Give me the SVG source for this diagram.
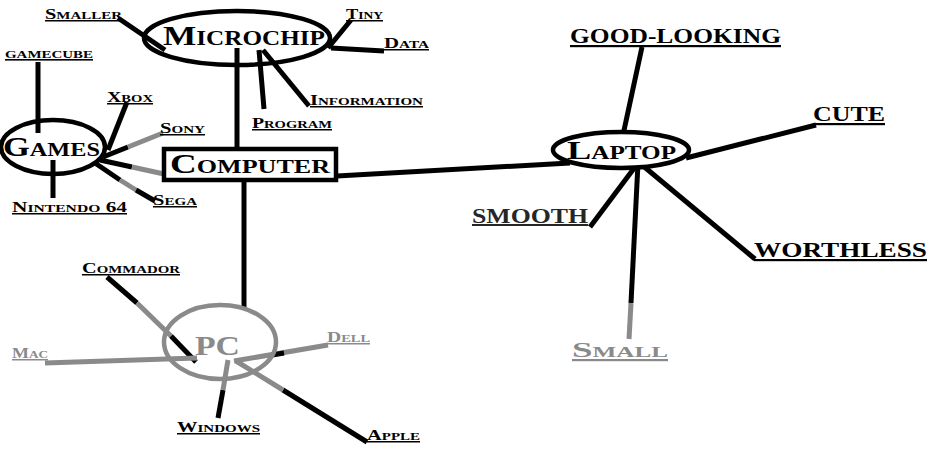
<svg xmlns="http://www.w3.org/2000/svg" width="941" height="461" viewBox="0 0 941 461">
<style>
text{font-family:"Liberation Serif","DejaVu Serif",serif;font-weight:bold;font-variant:small-caps;text-decoration:underline;fill:#000}
.s{font-size:15px}
.b{font-size:27px;text-decoration:none}
.m{font-size:22px}
.g{fill:#8a8a8a}
.c line,.c path{stroke:#000;stroke-width:5;fill:none;stroke-linecap:butt}
.c .gr{stroke:#8a8a8a}
.sh{fill:#fff;stroke:#000;stroke-width:4.5}
.shg{fill:none;stroke:#8a8a8a;stroke-width:4.5}
</style>
<rect width="941" height="461" fill="#fff"/>
<g id="connectors" class="c">
<line x1="118" y1="18" x2="165" y2="50"/>
<line x1="351" y1="20" x2="328" y2="48"/>
<line x1="331" y1="48" x2="384" y2="51"/>
<line x1="263" y1="50" x2="309" y2="106"/>
<line x1="259" y1="50" x2="264" y2="109"/>
<line x1="237" y1="48" x2="237" y2="149"/>
<line x1="337" y1="176" x2="570" y2="163"/>
<line x1="244" y1="181" x2="244" y2="307"/>
<line x1="38" y1="62" x2="38" y2="133"/>
<line x1="127" y1="102" x2="108" y2="150"/>
<line x1="103" y1="157" x2="128" y2="147"/>
<line class="gr" x1="128" y1="147" x2="163" y2="133"/>
<line x1="100" y1="160" x2="132" y2="167"/>
<line class="gr" x1="132" y1="167" x2="164" y2="174"/>
<line x1="95" y1="163" x2="120" y2="180"/>
<line class="gr" x1="120" y1="180" x2="136" y2="190"/>
<line x1="136" y1="190" x2="155" y2="201"/>
<line x1="53" y1="160" x2="53" y2="198"/>
<line x1="107" y1="277" x2="137" y2="303"/>
<line class="gr" x1="137" y1="303" x2="171" y2="336"/>
<line x1="171" y1="336" x2="196" y2="362"/>
<line class="gr" x1="45" y1="363" x2="197" y2="358"/>
<line class="gr" x1="328" y1="345" x2="234" y2="361"/>
<line x1="272" y1="355" x2="284" y2="353"/>
<line x1="218" y1="418" x2="223" y2="390"/>
<line class="gr" x1="223" y1="390" x2="228" y2="360"/>
<line x1="367" y1="442" x2="283" y2="390"/>
<line class="gr" x1="283" y1="390" x2="236" y2="361"/>
<line x1="642" y1="47" x2="623" y2="135"/>
<line x1="816" y1="125" x2="686" y2="158"/>
<line x1="590" y1="227" x2="638" y2="163"/>
<line x1="638" y1="163" x2="631" y2="303"/>
<line class="gr" x1="631" y1="303" x2="629" y2="339"/>
<line x1="642" y1="165" x2="755" y2="259"/>
</g>
<g id="microchip">
<ellipse cx="237" cy="38" rx="93" ry="27" fill="none" stroke="#000" stroke-width="4.5"/>
<text class="b" x="163" y="45" textLength="162" lengthAdjust="spacingAndGlyphs" style="font-size:28px">Microchip</text>
</g>
<g id="smaller"><text class="s" x="45" y="19" textLength="77" lengthAdjust="spacingAndGlyphs">Smaller</text></g>
<g id="tiny"><text class="s" x="346" y="19" textLength="37" lengthAdjust="spacingAndGlyphs">Tiny</text></g>
<g id="data"><text class="s" x="384" y="48" textLength="45" lengthAdjust="spacingAndGlyphs">Data</text></g>
<g id="information"><text class="s" x="310" y="105" textLength="113" lengthAdjust="spacingAndGlyphs">Information</text></g>
<g id="program"><text class="s" x="252" y="128" textLength="80" lengthAdjust="spacingAndGlyphs">Program</text></g>
<g id="computer">
<rect x="164" y="149" width="172" height="31" class="sh" stroke-width="5"/>
<text class="b" x="170" y="173" textLength="160" lengthAdjust="spacingAndGlyphs">Computer</text>
</g>
<g id="games">
<ellipse cx="53" cy="147" rx="52" ry="27" fill="none" stroke="#000" stroke-width="4.5"/>
<text class="b" x="3" y="156" textLength="97" lengthAdjust="spacingAndGlyphs">Games</text>
</g>
<g id="gamecube"><text x="5" y="58" style="font-size:16px" textLength="88" lengthAdjust="spacingAndGlyphs">gamecube</text></g>
<g id="xbox"><text class="s" x="107" y="102" textLength="46" lengthAdjust="spacingAndGlyphs">Xbox</text></g>
<g id="sony"><text class="s" x="160" y="133" textLength="45" lengthAdjust="spacingAndGlyphs">Sony</text></g>
<g id="sega"><text class="s" x="153" y="205" textLength="44" lengthAdjust="spacingAndGlyphs">Sega</text></g>
<g id="nintendo"><text class="s" x="12" y="212" textLength="115" lengthAdjust="spacingAndGlyphs">Nintendo 64</text></g>
<g id="pc">
<ellipse cx="220" cy="342" rx="56" ry="37" class="shg"/>
<text class="b g" x="195" y="355" textLength="45" lengthAdjust="spacingAndGlyphs">PC</text>
</g>
<g id="commador"><text class="s" x="82" y="273" textLength="98" lengthAdjust="spacingAndGlyphs">Commador</text></g>
<g id="mac"><text class="s g" x="12" y="358" textLength="36" lengthAdjust="spacingAndGlyphs">Mac</text></g>
<g id="dell"><text class="s g" x="327" y="342" textLength="43" lengthAdjust="spacingAndGlyphs">Dell</text></g>
<g id="windows"><text class="s" x="177" y="432" textLength="83" lengthAdjust="spacingAndGlyphs">Windows</text></g>
<g id="apple"><text class="s" x="367" y="440" textLength="53" lengthAdjust="spacingAndGlyphs">Apple</text></g>
<g id="laptop">
<ellipse cx="621" cy="150" rx="68" ry="18" class="sh"/>
<text class="b" x="567" y="159" textLength="109" lengthAdjust="spacingAndGlyphs" style="font-size:26px">Laptop</text>
</g>
<g id="goodlooking"><text class="m" x="570" y="43" textLength="211" lengthAdjust="spacingAndGlyphs">GOOD-LOOKING</text></g>
<g id="cute"><text class="m" x="813" y="121" textLength="72" lengthAdjust="spacingAndGlyphs">CUTE</text></g>
<g id="smooth"><text class="m" x="472" y="223" textLength="116" lengthAdjust="spacingAndGlyphs" style="font-size:20px;fill:#262626">SMOOTH</text></g>
<g id="worthless"><text class="m" x="754" y="257" textLength="173" lengthAdjust="spacingAndGlyphs">WORTHLESS</text></g>
<g id="small"><text class="m g" x="572" y="357" textLength="96" lengthAdjust="spacingAndGlyphs">Small</text></g>
</svg>
